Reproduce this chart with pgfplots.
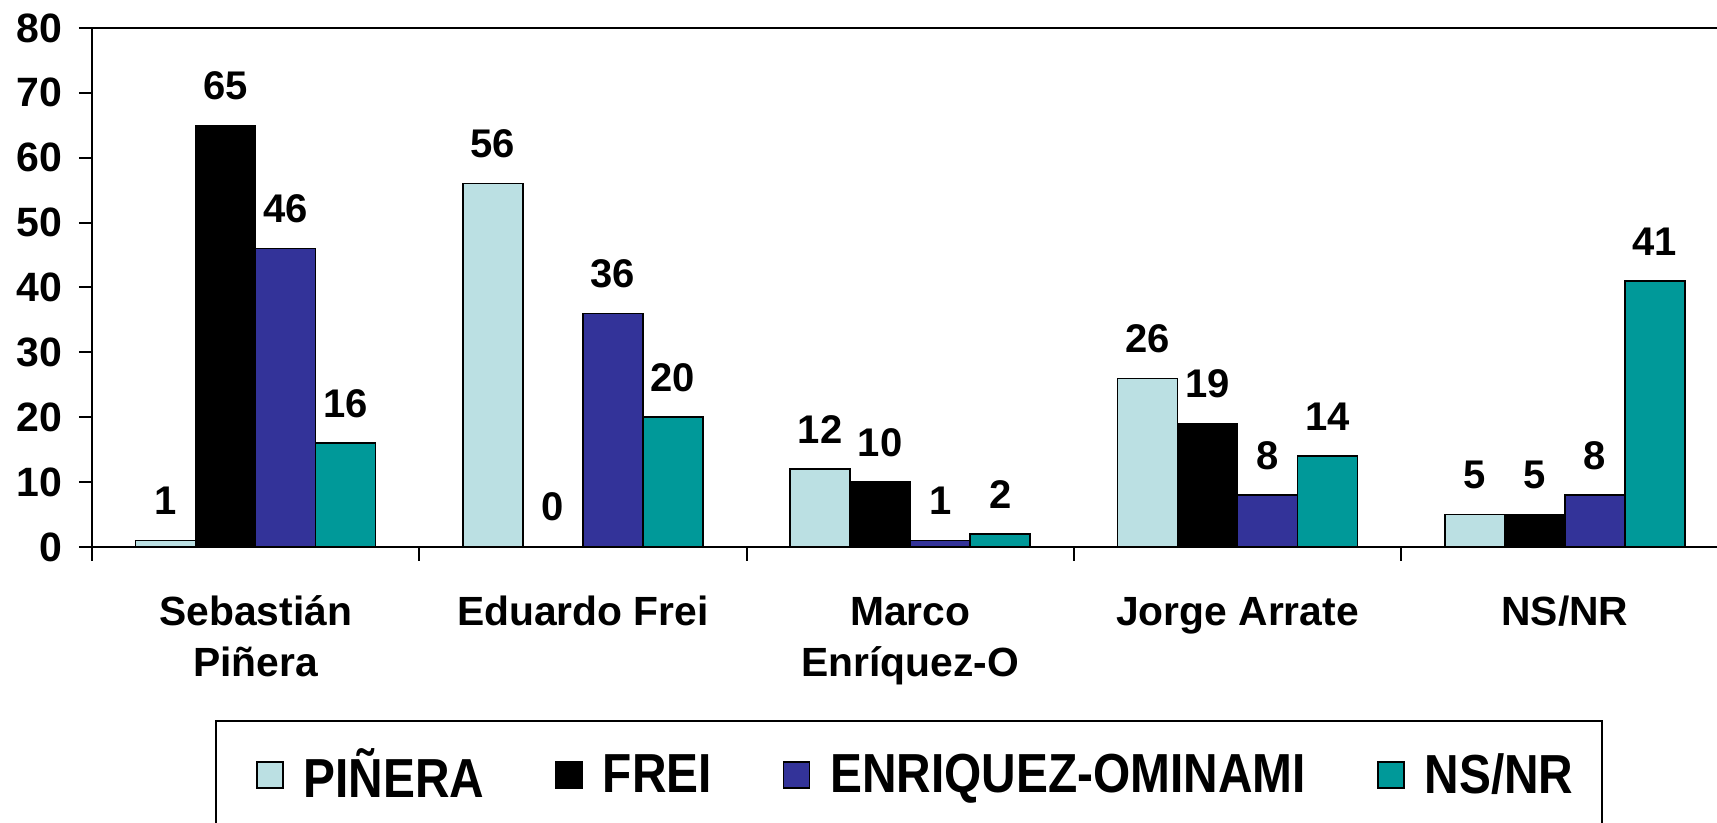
\documentclass[border=0pt]{standalone}
\usepackage{pgfplots}
\pgfplotsset{compat=1.18}
\usepackage{fontspec}
\setmainfont{Liberation Sans}
\newfontfamily\legfont{Liberation Sans}[FakeStretch=0.87]
\definecolor{cPin}{RGB}{187,224,227}
\definecolor{cBlue}{RGB}{51,51,153}
\definecolor{cTeal}{RGB}{0,153,153}
\begin{document}
\begin{tikzpicture}
\begin{axis}[
  at={(46pt,138pt)}, anchor=south west,
  scale only axis, width=812.5pt, height=259.5pt,
  xmin=-0.5, xmax=4.465, ymin=0, ymax=80,
  ybar=0pt, bar width=30pt,
  clip=false,
  axis x line*=bottom, axis y line*=left,
  axis line style={line width=1pt, black},
  ytick={0,10,...,80},
  extra y ticks={80}, extra y tick labels={},
  extra y tick style={grid=major, major grid style={black, line width=1pt}},
  xtick={0,1,2,3,4},
  xticklabels={{\rule{0pt}{16pt}Sebastián\\Piñera},{\rule{0pt}{16pt}Eduardo Frei},{\rule{0pt}{16pt}Marco\\Enríquez-O},{\rule{0pt}{16pt}Jorge Arrate},{\rule{0pt}{16pt}NS/NR}},
  minor xtick={-0.5,0.5,1.5,2.5,3.5},
  tick align=outside,
  major tick length=6.5pt, minor tick length=7pt,
  major x tick style={draw=none},
  tick style={line width=1pt, black},
  /pgf/number format/assume math mode=true,
  yticklabel style={font=\fontsize{20.5}{24}\selectfont\bfseries, inner sep=0pt, anchor=east, xshift=-8pt},
  xticklabel style={font=\fontsize{20.4}{25.5}\selectfont\bfseries, align=center, inner sep=0pt, anchor=north, yshift=-16.5pt},
  nodes near coords,
  every node near coord/.append style={font=\fontsize{20}{24}\selectfont\bfseries, anchor=base, inner sep=0pt, yshift=13pt, black},
  legend columns=4,
  legend cell align=left,
  legend image code/.code={\path (-6pt,0pt); \draw[#1, draw=black, line width=0.75pt] (0pt,-6.5pt) rectangle (13pt,6.5pt);},
  legend style={at={(0.0757,-0.3333)}, anchor=north west, draw=black, line width=1pt,
    font=\legfont\bfseries\fontsize{27.5}{31}\selectfont,
    inner xsep=14pt, inner ysep=14pt, nodes={inner sep=0pt},
    /tikz/every odd column/.append style={column sep=10pt},
    /tikz/every even column/.append style={column sep=29.5pt}},
]
\addplot[fill=cPin, draw=black, line width=0.75pt] coordinates {(0,1) (1,56) (2,12) (3,26) (4,5)};
\addplot[fill=black, draw=black, line width=0.75pt] coordinates {(0,65) (1,0) (2,10) (3,19) (4,5)};
\addplot[fill=cBlue, draw=black, line width=0.75pt] coordinates {(0,46) (1,36) (2,1) (3,8) (4,8)};
\addplot[fill=cTeal, draw=black, line width=0.75pt] coordinates {(0,16) (1,20) (2,2) (3,14) (4,41)};
\legend{PIÑERA, FREI, ENRIQUEZ-OMINAMI, NS/NR}
\end{axis}
\pgfresetboundingbox
\path[use as bounding box] (0,0) rectangle (858.5pt,411.5pt);
\end{tikzpicture}
\end{document}
